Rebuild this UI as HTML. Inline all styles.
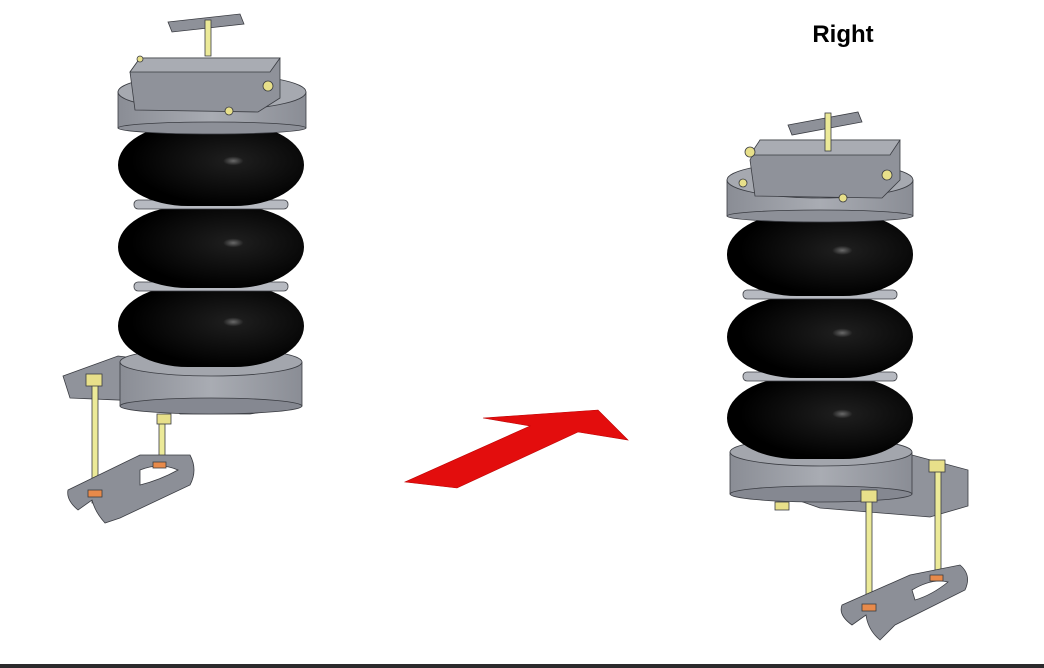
<!DOCTYPE html>
<html><head><meta charset="utf-8"><style>
html,body{margin:0;padding:0;background:#fff;width:1044px;height:668px;overflow:hidden}
svg{display:block}
</style></head><body>
<svg width="1044" height="668" viewBox="0 0 1044 668" xmlns="http://www.w3.org/2000/svg">
<defs>
<radialGradient id="bel" cx="0.62" cy="0.45" r="0.55">
<stop offset="0" stop-color="#6a6a6a"/><stop offset="0.1" stop-color="#1c1c1c"/><stop offset="1" stop-color="#000"/>
</radialGradient>
<linearGradient id="metal" x1="0" y1="0" x2="1" y2="0">
<stop offset="0" stop-color="#8a8d95"/><stop offset="0.5" stop-color="#a9acb3"/><stop offset="1" stop-color="#8a8d95"/>
</linearGradient>
</defs>
<rect width="1044" height="668" fill="#fff"/>
<rect x="0" y="664" width="1044" height="4" fill="#2b2a2c"/>

<!-- LEFT ASSEMBLY -->
<g stroke="#3a3c42" stroke-width="0.8">
<polygon points="63,376 118,356 300,380 300,406 250,414 180,414 165,402 70,398" fill="#90939b"/>
<rect x="120" y="362" width="182" height="44" fill="url(#metal)"/>
<ellipse cx="211" cy="362" rx="91" ry="14" fill="#a3a6ad"/>
<ellipse cx="211" cy="406" rx="91" ry="8" fill="#858891"/>
<rect x="92" y="385" width="6" height="118" fill="#ecea98"/>
<rect x="159" y="415" width="6" height="55" fill="#ecea98"/>
<rect x="86" y="374" width="16" height="12" fill="#e8e08a"/>
<rect x="157" y="414" width="14" height="10" fill="#e8e08a"/>
<path d="M68,490 L140,455 L190,455 Q198,470 190,485 L120,518 L105,523 Q95,512 92,500 L78,510 Q66,500 68,490 Z" fill="#8c8f97"/>
<path d="M140,470 Q160,462 178,470 Q160,480 140,485 Z" fill="#fff"/>
<rect x="88" y="490" width="14" height="7" fill="#e88a4a"/>
<rect x="153" y="462" width="13" height="6" fill="#e88a4a"/>
<rect x="118" y="285" width="186" height="82" rx="70" ry="41" fill="url(#bel)" stroke="none"/>
<rect x="134" y="282" width="154" height="9" rx="4" fill="#b7bac1"/>
<rect x="118" y="206" width="186" height="82" rx="70" ry="41" fill="url(#bel)" stroke="none"/>
<rect x="134" y="200" width="154" height="9" rx="4" fill="#b7bac1"/>
<rect x="118" y="124" width="186" height="82" rx="70" ry="41" fill="url(#bel)" stroke="none"/>
<rect x="118" y="92" width="188" height="36" fill="url(#metal)"/>
<ellipse cx="212" cy="128" rx="94" ry="6" fill="#8d9098"/>
<ellipse cx="212" cy="92" rx="94" ry="18" fill="#a6a9b0"/>
<polygon points="130,72 140,58 280,58 280,98 258,112 135,110" fill="#8f929a"/>
<polygon points="140,58 280,58 270,72 130,72" fill="#a9acb3"/>
<polygon points="168,22 240,14 244,24 172,32" fill="#8e9199"/>
<rect x="205" y="20" width="6" height="36" fill="#ecea98"/>
<circle cx="268" cy="86" r="5" fill="#e8e08a"/>
<circle cx="229" cy="111" r="4" fill="#e8e08a"/>
<circle cx="140" cy="59" r="3" fill="#e8e08a"/>
</g>

<!-- RIGHT ASSEMBLY -->
<g stroke="#3a3c42" stroke-width="0.8">
<polygon points="730,455 912,455 968,470 968,506 930,517 820,508 740,480" fill="#90939b"/>
<rect x="730" y="452" width="182" height="42" fill="url(#metal)"/>
<ellipse cx="821" cy="452" rx="91" ry="14" fill="#a3a6ad"/>
<ellipse cx="821" cy="494" rx="91" ry="8" fill="#858891"/>
<rect x="866" y="500" width="6" height="105" fill="#ecea98"/>
<rect x="935" y="468" width="6" height="120" fill="#ecea98"/>
<rect x="861" y="490" width="16" height="12" fill="#e8e08a"/>
<rect x="929" y="460" width="16" height="12" fill="#e8e08a"/>
<rect x="775" y="502" width="14" height="8" fill="#e8e08a"/>
<path d="M842,605 L910,575 L960,565 Q972,575 965,590 L895,625 L880,640 Q868,630 866,615 L852,625 Q838,615 842,605 Z" fill="#8c8f97"/>
<path d="M912,590 Q932,578 948,582 Q932,595 915,600 Z" fill="#fff"/>
<rect x="862" y="604" width="14" height="7" fill="#e88a4a"/>
<rect x="930" y="575" width="13" height="6" fill="#e88a4a"/>
<rect x="727" y="377" width="186" height="82" rx="70" ry="41" fill="url(#bel)" stroke="none"/>
<rect x="743" y="372" width="154" height="9" rx="4" fill="#b7bac1"/>
<rect x="727" y="296" width="186" height="82" rx="70" ry="41" fill="url(#bel)" stroke="none"/>
<rect x="743" y="290" width="154" height="9" rx="4" fill="#b7bac1"/>
<rect x="727" y="213" width="186" height="83" rx="70" ry="41" fill="url(#bel)" stroke="none"/>
<rect x="727" y="180" width="186" height="36" fill="url(#metal)"/>
<ellipse cx="820" cy="216" rx="93" ry="6" fill="#8d9098"/>
<ellipse cx="820" cy="180" rx="93" ry="18" fill="#a6a9b0"/>
<polygon points="750,160 760,140 900,140 900,180 882,198 755,196" fill="#8f929a"/>
<polygon points="760,140 900,140 890,155 750,155" fill="#a9acb3"/>
<polygon points="788,125 858,112 862,122 792,135" fill="#8e9199"/>
<rect x="825" y="113" width="6" height="38" fill="#ecea98"/>
<circle cx="750" cy="152" r="5" fill="#e8e08a"/>
<circle cx="887" cy="175" r="5" fill="#e8e08a"/>
<circle cx="743" cy="183" r="4" fill="#e8e08a"/>
<circle cx="843" cy="198" r="4" fill="#e8e08a"/>
</g>

<polygon points="405,482 457,488 578,432 628,440 598,410 483,418 530,426" fill="#e30d0d" stroke="#b00" stroke-width="0.6"/>

<text x="843" y="42" text-anchor="middle" font-family="Liberation Sans, sans-serif" font-weight="bold" font-size="24" fill="#000">Right</text>
</svg>
</body></html>
